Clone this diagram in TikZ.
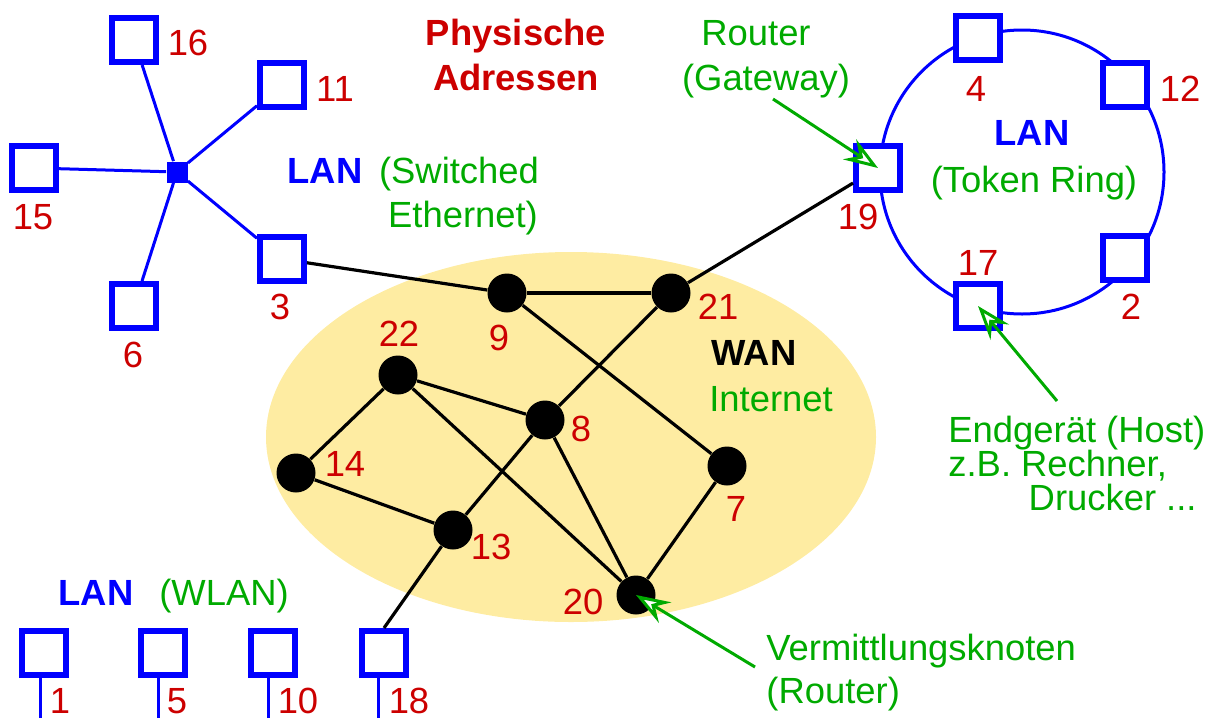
\documentclass[tikz,border=0pt]{standalone}
\usepackage{fontspec}
\setmainfont{Liberation Sans}
\usetikzlibrary{arrows.meta}
\definecolor{hostblue}{RGB}{0,0,255}
\definecolor{addrred}{RGB}{204,0,0}
\definecolor{notegreen}{RGB}{0,170,0}
\definecolor{wanyellow}{RGB}{254,236,162}

\begin{document}
\begin{tikzpicture}[x=0.5pt, y=-0.5pt,
    every node/.style={font=\fontsize{18.2}{22}\selectfont},
    host/.style={draw=hostblue, fill=white, rectangle, line width=3pt, minimum size=22pt, inner sep=0pt},
    hub/.style={fill=hostblue, rectangle, minimum size=10.5pt, inner sep=0pt},
    router/.style={fill=black, circle, minimum size=19.5pt, inner sep=0pt},
    addr/.style={text=addrred, anchor=base, inner sep=0pt},
    note/.style={text=notegreen, anchor=base, inner sep=0pt},
    netname/.style={text=hostblue, font=\fontsize{18.2}{22}\selectfont\bfseries, anchor=base, inner sep=0pt},
    blueline/.style={hostblue, line width=1.5pt},
    wanline/.style={black, line width=1.6pt},
    pointer/.style={notegreen, line width=1.5pt, -{Stealth[open, fill=white, length=17pt, width=12pt, inset=6pt]}}
  ]
    \useasboundingbox (0,0) rectangle (1215,718);

    % WAN area and token ring
    \fill[wanyellow] (571,437) ellipse [x radius=305, y radius=185];
    \draw[blueline] (1022,172) circle [radius=142];

    % Switched Ethernet
    \node[hub] (hub) at (177,172) {};
    \node[host] (h16) at (134,40) {};
    \node[host] (h11) at (282,85) {};
    \node[host] (h15) at (34,168) {};
    \node[host] (h3) at (282,259) {};
    \node[host] (h6) at (134,306) {};
    \draw[blueline] (hub) -- (h16);
    \draw[blueline] (hub) -- (h11);
    \draw[blueline] (hub) -- (h15);
    \draw[blueline] (hub) -- (h3);
    \draw[blueline] (hub) -- (h6);

    % Token Ring
    \node[host] (h4) at (978,38) {};
    \node[host] (h12) at (1125,85) {};
    \node[host] (h19) at (878,168) {};
    \node[host] (h2) at (1125,258) {};
    \node[host] (h17) at (978,306) {};

    % WLAN
    \node[host] (h1) at (44,653) {};
    \node[host] (h5) at (163,653) {};
    \node[host] (h10) at (273,653) {};
    \node[host] (h18) at (384,653) {};
    \coordinate (ant1) at (40,718);
    \coordinate (ant5) at (158,718);
    \coordinate (ant10) at (268,718);
    \coordinate (ant18) at (378,718);
    \draw[blueline] (h1.south -| ant1) -- (ant1);
    \draw[blueline] (h5.south -| ant5) -- (ant5);
    \draw[blueline] (h10.south -| ant10) -- (ant10);
    \draw[blueline] (h18.south -| ant18) -- (ant18);

    % Vermittlungsknoten
    \node[router] (r9) at (507,293) {};
    \node[router] (r21) at (671,293) {};
    \node[router] (r22) at (398,375) {};
    \node[router] (r8) at (545,420) {};
    \node[router] (r14) at (296,473) {};
    \node[router] (r7) at (727,466) {};
    \node[router] (r13) at (453,530) {};
    \node[router] (r20) at (636,595) {};

    \draw[wanline] (h3) -- (r9);
    \draw[wanline] (r9) -- (r21);
    \draw[wanline] (r21) -- (h19);
    \draw[wanline] (r9) -- (r7);
    \draw[wanline] (r21) -- (r8);
    \draw[wanline] (r22) -- (r8);
    \draw[wanline] (r22) -- (r14);
    \draw[wanline] (r22) -- (r20);
    \draw[wanline] (r14) -- (r13);
    \draw[wanline] (r8) -- (r13);
    \draw[wanline] (r8) -- (r20);
    \draw[wanline] (r7) -- (r20);
    \draw[wanline] (r13) -- (h18.north);

    % Adressen
    \node[addr] (l16) at (188,55) {16};
    \node[addr] (l11) at (335,101) {11};
    \node[addr] (l15) at (33,229) {15};
    \node[addr] (l3) at (280,319) {3};
    \node[addr] (l6) at (133,367) {6};
    \node[addr] (l4) at (976,101) {4};
    \node[addr] (l12) at (1180,101) {12};
    \node[addr] (l19) at (858,229) {19};
    \node[addr] (l17) at (978,275) {17};
    \node[addr] (l2) at (1131,319) {2};
    \node[addr] (l22) at (399,346) {22};
    \node[addr] (l9) at (499,350) {9};
    \node[addr] (l21) at (718,319) {21};
    \node[addr] (l8) at (581,441) {8};
    \node[addr] (l14) at (345,476) {14};
    \node[addr] (l7) at (736,521) {7};
    \node[addr] (l13) at (491,559) {13};
    \node[addr] (l20) at (583,614) {20};
    \node[addr] (l1) at (60,713) {1};
    \node[addr] (l5) at (177,713) {5};
    \node[addr] (l10) at (298,713) {10};
    \node[addr] (l18) at (409,713) {18};
    \node[addr, font=\fontsize{18.2}{22}\selectfont\bfseries] (title1) at (516,45) {Physische};
    \node[addr, font=\fontsize{18.2}{22}\selectfont\bfseries] (title2) at (516,90) {Adressen};

    % Netznamen
    \node[netname] (lanstar) at (325,183) {LAN};
    \node[note] (sw1) at (459,183) {(Switched};
    \node[note] (sw2) at (463,227) {Ethernet)};
    \node[netname] (lanring) at (1032,145) {LAN};
    \node[note] (tr) at (1034,192) {(Token Ring)};
    \node[netname] (lanwlan) at (96,605) {LAN};
    \node[note] (wlan) at (224,605) {(WLAN)};
    \node[netname, text=black] (wan) at (754,365) {WAN};
    \node[note] (inet) at (771,411) {Internet};

    % Erklaerungen
    \node[note] (gw1) at (756,45) {Router};
    \node[note] (gw2) at (766,90) {(Gateway)};
    \node[note, anchor=base west] (eg1) at (948,442) {Endgerät (Host)};
    \node[note, anchor=base west] (eg2) at (948,476) {z.B. Rechner,};
    \node[note, anchor=base east] (eg3) at (1197,510) {Drucker ...};
    \node[note, anchor=base west] (vk1) at (766,660) {Vermittlungsknoten};
    \node[note, anchor=base west] (vk2) at (766,703) {(Router)};

    \coordinate (p19) at (773,99);
    \coordinate (p17) at (1057,401);
    \coordinate (p20) at (755,667);
    \draw[pointer] (p19) -- (h19.center);
    \draw[pointer] (p17) -- (h17.center);
    \draw[pointer] (p20) -- (r20.center);
\end{tikzpicture}
\end{document}
